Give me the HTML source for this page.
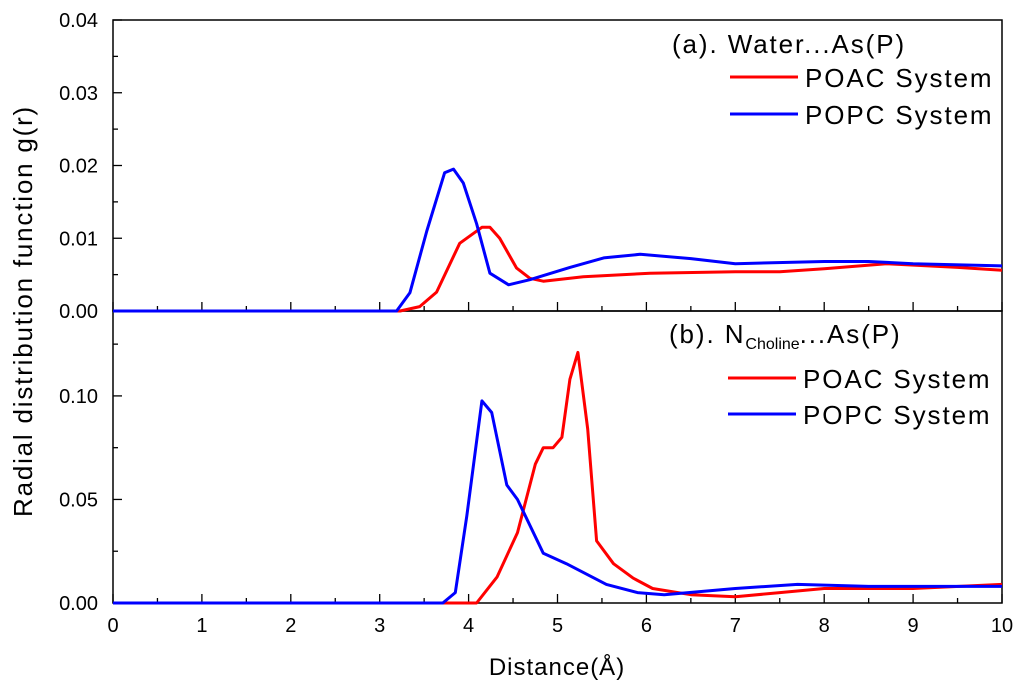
<!DOCTYPE html>
<html><head><meta charset="utf-8"><style>
body{margin:0;background:#fff;}
svg{display:block;font-family:"Liberation Sans",Arial,sans-serif;}
</style></head><body>
<svg id="chart" width="1024" height="696" viewBox="0 0 1024 696">
<g id="axes"></g><g id="series"></g><g id="labels"></g>
</svg>
<script>
const xTicks=[0,1,2,3,4,5,6,7,8,9,10];
const topYTicks=[0,0.01,0.02,0.03,0.04];
const topYLabels=["0.00","0.01","0.02","0.03","0.04"];
const botYTicks=[0,0.05,0.10];
const botYLabels=["0.00","0.05","0.10"];
const topPoacX=[0,3.23,3.45,3.64,3.9,4.15,4.24,4.35,4.54,4.69,4.84,5.29,6.04,7,7.5,8,8.7,9.5,10];
const topPoacY=[0,0,0.0006,0.0026,0.0093,0.0115,0.0115,0.010,0.0059,0.0045,0.0041,0.0047,0.0052,0.0054,0.0054,0.0058,0.0065,0.006,0.0056];
const topPopcX=[0,3.19,3.34,3.53,3.73,3.83,3.94,4.09,4.24,4.45,4.69,5.14,5.52,5.93,6.5,7,8,8.5,9,10];
const topPopcY=[0,0,0.0025,0.011,0.019,0.0195,0.0176,0.012,0.0052,0.0036,0.0043,0.006,0.0073,0.0078,0.0072,0.0065,0.0068,0.0068,0.0065,0.0062];
const botPoacX=[0,4.09,4.32,4.55,4.75,4.84,4.95,5.05,5.14,5.23,5.34,5.44,5.63,5.85,6.07,6.5,7,7.5,8,9,10];
const botPoacY=[0,0,0.0125,0.034,0.067,0.075,0.075,0.080,0.108,0.121,0.084,0.030,0.019,0.012,0.007,0.004,0.003,0.005,0.007,0.007,0.009];
const botPopcX=[0,3.71,3.85,3.98,4.15,4.26,4.43,4.55,4.84,5.1,5.55,5.9,6.2,7,7.7,8.5,10];
const botPopcY=[0,0,0.005,0.042,0.0976,0.092,0.057,0.050,0.024,0.019,0.009,0.005,0.004,0.007,0.009,0.008,0.008];

const NS="http://www.w3.org/2000/svg";
const X0=113,X1=1002,TT=20,MID=311,BB=603;
const sx=v=>X0+(X1-X0)*v/10;
const syT=v=>MID-(MID-TT)*v/0.04;
const syB=v=>BB-(BB-MID)*v/0.141;
function mk(tag,attrs,parent){const e=document.createElementNS(NS,tag);for(const k in attrs)e.setAttribute(k,attrs[k]);parent.appendChild(e);return e;}
const axes=document.getElementById('axes'),series=document.getElementById('series'),labels=document.getElementById('labels');

const f1=mk('rect',{x:X0,y:TT,width:X1-X0,height:MID-TT,fill:'none',stroke:'#000','stroke-width':1.5},axes);


const f2=mk('rect',{x:X0,y:MID,width:X1-X0,height:BB-MID,fill:'none',stroke:'#000','stroke-width':1.5},axes);



for(let i=0;i<=20;i++){
  const v=i/2,major=i%2===0,len=major?9:5;
  for(const yb of [MID,BB]){
    const t=mk('line',{x1:sx(v),x2:sx(v),y1:yb,y2:yb-len,stroke:'#000','stroke-width':1.3},axes);
    
    
  }
}
xTicks.forEach(v=>{
  const t=mk('text',{x:sx(v),y:632,'font-size':20,'text-anchor':'middle'},labels);
  t.textContent=v;
  
  
});
topYTicks.forEach((v,i)=>{
  const y=syT(v);
  const l=mk('line',{x1:X0,x2:X0+9,y1:y,y2:y,stroke:'#000','stroke-width':1.3},axes);
  
  
  if(i<topYTicks.length-1){const m=mk('line',{x1:X0,x2:X0+5,y1:syT(v+0.005),y2:syT(v+0.005),stroke:'#000','stroke-width':1.3},axes);
  
  }
  const t=mk('text',{x:X0-15,y:y+7,'font-size':20,'text-anchor':'end'},labels);
  t.textContent=topYLabels[i];
  
  
});
botYTicks.forEach((v,i)=>{
  const y=syB(v);
  const l=mk('line',{x1:X0,x2:X0+9,y1:y,y2:y,stroke:'#000','stroke-width':1.3},axes);
  
  
  const m=mk('line',{x1:X0,x2:X0+5,y1:syB(v+0.025),y2:syB(v+0.025),stroke:'#000','stroke-width':1.3},axes);
  
  
  const t=mk('text',{x:X0-15,y:y+7,'font-size':20,'text-anchor':'end'},labels);
  t.textContent=botYLabels[i];
  
  
});

function line(xs,ys,sy,color,name){
  const d=xs.map((x,i)=>(i?'L':'M')+sx(x).toFixed(1)+','+sy(ys[i]).toFixed(1)).join('');
  const p=mk('path',{d:d,fill:'none',stroke:color,'stroke-width':3,'stroke-linejoin':'round'},series);
  
  
}
line(topPoacX,topPoacY,syT,'#ff0000','top-poac-line');
line(topPopcX,topPopcY,syT,'#0000ff','top-popc-line');
line(botPoacX,botPoacY,syB,'#ff0000','bottom-poac-line');
line(botPopcX,botPopcY,syB,'#0000ff','bottom-popc-line');

function legend(x,y,color,txt,name){
  const l=mk('line',{x1:x,x2:x+68,y1:y,y2:y,stroke:color,'stroke-width':3},labels);
  
  
  const t=mk('text',{x:x+75,y:y+10,'font-size':26,'letter-spacing':1.9},labels);
  t.textContent=txt;
  
  
}
function title(x,y,txt,name){
  const t=mk('text',{x:x,y:y,'font-size':26,'letter-spacing':1.9},labels);
  t.innerHTML=txt;
  
  
}
title(672,53,'(a). Water...As(P)','panel-a-title');
legend(730,77,'#ff0000','POAC System','legend-a-poac');
legend(730,114,'#0000ff','POPC System','legend-a-popc');
title(669,343,'(b). N<tspan font-size="16" letter-spacing="0" dy="6">Choline</tspan><tspan dy="-6">...As(P)</tspan>','panel-b-title');
legend(728,378,'#ff0000','POAC System','legend-b-poac');
legend(728,414,'#0000ff','POPC System','legend-b-popc');

const xl=mk('text',{x:557,y:675,'font-size':24,'letter-spacing':1,'text-anchor':'middle'},labels);
xl.textContent='Distance(Å)';


const yl=mk('text',{x:0,y:0,'font-size':26,'letter-spacing':1.8,'text-anchor':'middle',transform:'translate(32,311) rotate(-90)'},labels);
yl.textContent='Radial distribution function g(r)';


</script>
</body></html>
